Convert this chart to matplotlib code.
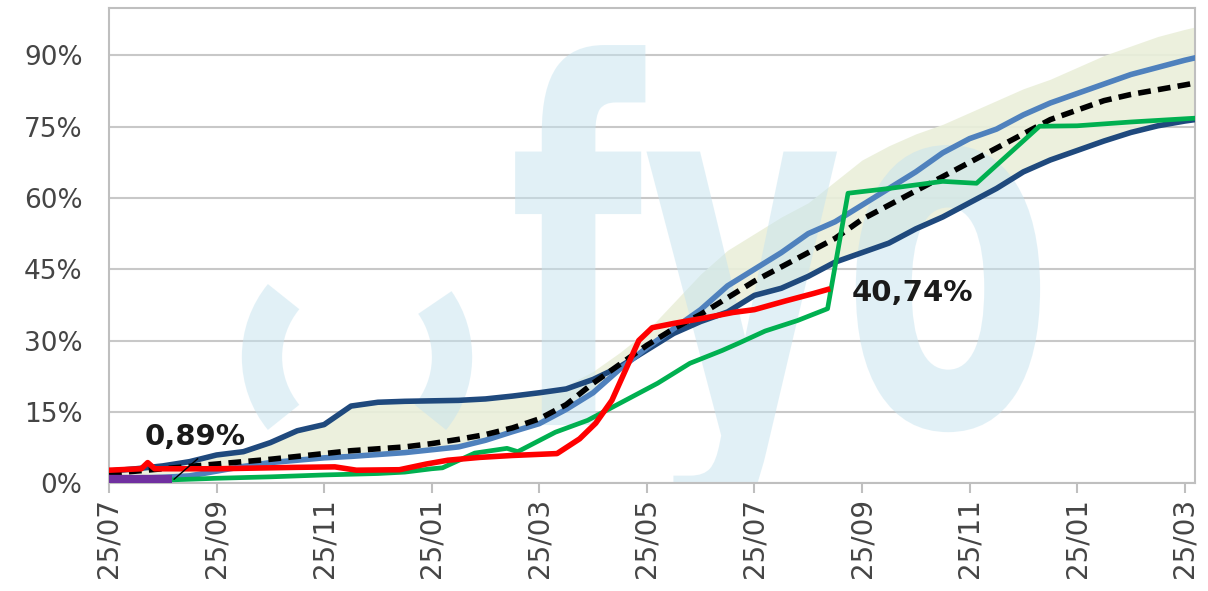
import numpy as np
import matplotlib
matplotlib.use("Agg")
import matplotlib.pyplot as plt
from matplotlib.patches import Arc, PathPatch
from matplotlib.textpath import TextPath
from matplotlib.font_manager import FontProperties
from matplotlib.transforms import Affine2D

# eje x: meses desde 25/07 (campaña de 20 meses)
tick_pos = [0, 2, 4, 6, 8, 10, 12, 14, 16, 18, 20]
tick_labels = ["25/07", "25/09", "25/11", "25/01", "25/03", "25/05",
               "25/07", "25/09", "25/11", "25/01", "25/03"]
y_ticks = [0, 15, 30, 45, 60, 75, 90]

# series leidas cada medio mes
meses = list(np.arange(0, 20.5, 0.5)) + [20.19]

azul_oscuro = [2.5, 3.0, 3.6, 4.5, 5.9, 6.6, 8.5, 11.0, 12.3, 16.2, 17.0, 17.2, 17.3, 17.4,
               17.7, 18.3, 19.0, 19.8, 21.8, 24.5, 28.0, 31.5, 34.0, 36.0, 39.5, 41.0, 43.5,
               46.5, 48.5, 50.5, 53.5, 56.0, 59.0, 62.0, 65.5, 68.0, 70.0, 72.0, 73.8, 75.2,
               76.2, 76.5]
azul_claro = [0.8, 1.0, 1.2, 1.5, 2.5, 3.5, 4.3, 4.8, 5.3, 5.6, 6.0, 6.4, 7.0, 7.6, 9.0,
              10.8, 12.5, 15.5, 19.0, 24.0, 28.5, 32.5, 36.5, 41.5, 45.0, 48.5, 52.5, 55.0,
              58.5, 62.0, 65.5, 69.5, 72.5, 74.5, 77.5, 80.0, 82.0, 84.0, 86.0, 87.5, 89.0,
              89.5]
promedio = [2.0, 2.5, 3.0, 3.5, 4.0, 4.5, 5.0, 5.6, 6.2, 6.8, 7.2, 7.6, 8.3, 9.2, 10.2,
            11.6, 13.5, 16.5, 21.0, 25.0, 29.0, 32.5, 35.5, 39.0, 42.5, 45.5, 48.5, 51.5,
            55.5, 58.5, 61.5, 64.5, 67.5, 70.5, 73.5, 76.5, 78.5, 80.5, 81.8, 82.8, 83.8,
            84.2]
banda_min = [0.8, 1.0, 1.2, 1.5, 2.5, 3.5, 4.3, 4.8, 5.3, 5.6, 6.0, 6.4, 7.0, 7.6, 9.0,
             10.8, 12.5, 15.5, 19.0, 24.0, 28.0, 31.5, 34.0, 36.0, 39.5, 41.0, 43.5, 46.5,
             48.5, 50.5, 53.5, 56.0, 59.0, 62.0, 65.5, 68.0, 70.0, 72.0, 73.8, 75.2, 76.2,
             76.5]
banda_max = [2.5, 3.0, 3.6, 4.5, 5.9, 6.6, 8.5, 11.0, 12.3, 16.2, 17.0, 17.2, 17.3, 17.4,
             17.7, 18.3, 19.0, 20.5, 23.5, 27.5, 32.0, 38.0, 44.0, 49.0, 52.5, 56.0, 59.0,
             63.5, 68.0, 71.0, 73.5, 75.5, 78.0, 80.5, 83.0, 85.0, 87.5, 90.0, 92.0, 94.0,
             95.5, 96.0]

verde_m = [0, 1, 2, 3, 4, 5, 5.5, 6.0, 6.2, 6.8, 7.4, 7.6, 8.3, 8.9, 9.5, 10.2, 10.8,
           11.4, 11.7, 12.2, 12.8, 13.36, 13.74, 14.5, 15.5, 16.13, 17.3, 18.0, 19.0, 20.19]
verde = [0.5, 0.6, 1.0, 1.3, 1.7, 2.0, 2.3, 3.0, 3.2, 6.3, 7.3, 6.6, 10.7, 13.2, 16.8,
         21.0, 25.2, 27.9, 29.4, 32.0, 34.2, 36.7, 61.0, 62.0, 63.5, 63.1, 75.1, 75.2,
         76.0, 76.8]

rojo_m = [0, 0.6, 0.72, 0.85, 2.0, 3.5, 4.2, 4.6, 5.4, 5.9, 6.3, 6.9, 7.5, 8.33, 8.75,
          9.05, 9.35, 9.6, 9.85, 10.1, 10.5, 11.1, 11.6, 12.0, 12.6, 13.1, 13.36]
rojo = [2.7, 3.0, 4.3, 3.0, 3.0, 3.3, 3.4, 2.7, 2.8, 4.0, 4.8, 5.4, 5.8, 6.2, 9.3, 12.6,
        17.4, 23.7, 30.0, 32.7, 33.6, 34.8, 35.9, 36.5, 38.4, 39.9, 40.74]

morado_m = [0, 1.17]
morado = [0.89, 0.89]

fig = plt.figure(figsize=(12.08, 5.91), dpi=100)
ax = fig.add_axes([0.0902, 0.1827, 0.8990, 0.8038])

# marca de agua "fyo"
agua = "#c5e3ef"
for t1, t2 in [(118, 242), (-62, 58)]:
    ax.add_patch(Arc((0.2284, 0.2653), 0.175, 0.40, theta1=t1, theta2=t2,
                     transform=ax.transAxes, lw=29, color=agua, alpha=0.5,
                     zorder=2.5, capstyle="butt"))
tp = TextPath((0, 0), "fyo", size=1,
              prop=FontProperties(family="DejaVu Sans", weight="bold"))
ext = tp.get_extents()
sx = (1040 - 515) / 1086 / ext.width
sy = (425 - 45) / 475 / ext.y1
tr = Affine2D().translate(-ext.x0, 0).scale(sx, sy).translate(0.374, 0.122) + ax.transAxes
ax.add_patch(PathPatch(tp, transform=tr, facecolor=agua, edgecolor="none",
                       alpha=0.5, zorder=2.5))

ax.fill_between(meses, banda_min, banda_max, color="#eaefda", alpha=0.9, lw=0, zorder=2)
ax.plot(meses, azul_oscuro, color="#1f497d", lw=4, zorder=4)
ax.plot(meses, azul_claro, color="#4f81bd", lw=4, zorder=4)
ax.plot(meses, promedio, color="black", lw=4, linestyle=(0, (2.3, 1.3)), zorder=5)
ax.plot(verde_m, verde, color="#00b050", lw=3.4, zorder=6)
ax.plot(rojo_m, rojo, color="#ff0000", lw=4, zorder=7)
ax.plot(morado_m, morado, color="#7030a0", lw=6, solid_capstyle="butt", zorder=8)

ax.annotate("", xy=(morado_m[-1], 0.4), xytext=(1.69, 5.5),
            arrowprops=dict(arrowstyle="-", color="black", lw=1), zorder=9)
ax.text(0.67, 9.7, "0,89%", fontsize=21, fontweight="bold", color="#1a1a1a",
        va="center", ha="left", zorder=9)
ax.text(rojo_m[-1] + 0.45, 40.1, "40,74%", fontsize=21, fontweight="bold",
        color="#1a1a1a", va="center", ha="left", zorder=9)

ax.set_xlim(0, 20.19)
ax.set_ylim(0, 100)
ax.set_xticks(tick_pos)
ax.set_xticklabels(tick_labels, rotation=90, fontsize=20, color="#454545")
ax.set_yticks(y_ticks)
ax.set_yticklabels([f"{v}%" for v in y_ticks], fontsize=19, color="#454545")
ax.tick_params(axis="x", length=7, width=1.5, color="#bfbfbf", pad=4)
ax.tick_params(axis="y", length=0, pad=19)
ax.grid(axis="y", color="#c8c8c8", lw=1.5, zorder=1)
ax.set_axisbelow(True)
for s in ax.spines.values():
    s.set_color("#bfbfbf")
    s.set_linewidth(1.5)

fig.savefig("out.png", dpi=100)
